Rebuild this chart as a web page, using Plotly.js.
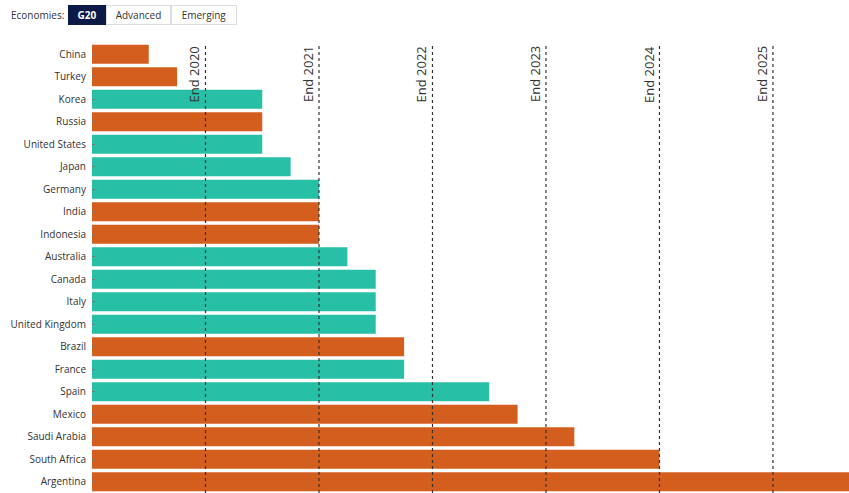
<!DOCTYPE html>
<html>
<head>
<meta charset="utf-8">
<script src="https://cdn.plot.ly/plotly-3.0.1.min.js"></script>
<style>html,body{margin:0;padding:0;background:#fff;}#chart{width:849px;height:493px;}</style>
</head>
<body>
<div id="chart"></div>
<script>
// Years (since end 2019) until pre-pandemic output level is recovered
var countries = ["China","Turkey","Korea","Russia","United States","Japan","Germany","India","Indonesia","Australia","Canada","Italy","United Kingdom","Brazil","France","Spain","Mexico","Saudi Arabia","South Africa","Argentina"];
var years = [0.5,0.75,1.5,1.5,1.5,1.75,2,2,2,2.25,2.5,2.5,2.5,2.75,2.75,3.5,3.75,4.25,5,7];
var groups = ["Emerging","Emerging","Advanced","Emerging","Advanced","Advanced","Advanced","Emerging","Emerging","Advanced","Advanced","Advanced","Advanced","Emerging","Advanced","Advanced","Emerging","Emerging","Emerging","Emerging"];
var markerYears = [1,2,3,4,5,6];
var markerLabels = ["End 2020","End 2021","End 2022","End 2023","End 2024","End 2025"];
var buttonLabels = ["G20","Advanced","Emerging"];

var groupColors = {"Emerging":"#D45E1E","Advanced":"#27BFA5"};
var font = "Open Sans, sans-serif";

var trace = {
  type: "bar",
  orientation: "h",
  y: countries,
  x: years,
  marker: {color: groups.map(function(g){return groupColors[g];}), line: {width: 0}},
  hoverinfo: "y+x"
};

var shapes = markerYears.map(function(v){
  return {type:"line", xref:"x", yref:"paper", x0:v, x1:v, y0:0, y1:1, layer:"above",
          line:{color:"#333", width:1.2, dash:"dot"}};
});

var annotations = markerYears.map(function(v,i){
  return {xref:"x", yref:"paper", x:v, y:1, text:markerLabels[i], textangle:-90,
          showarrow:false, xanchor:"right", yanchor:"top", xshift:0, yshift:-1,
          font:{family:font, size:13, color:"#333"}};
});

// header: label + button group
annotations.push({xref:"paper", yref:"paper", x:-0.11, y:1.0622, text:"Economies:", showarrow:false,
  xanchor:"left", yanchor:"middle", font:{family:font, size:10, color:"#333"}});
var btnX = [68,106,171];
var btnW = [38,65,66];
buttonLabels.forEach(function(t,i){
  var active = i===0;
  annotations.push({xref:"paper", yref:"paper", x:(btnX[i]-92)/757, y:1.0622, text: active?"<b>"+t+"</b>":t,
    showarrow:false, xanchor:"left", yanchor:"middle", width:btnW[i]-2, height:18, borderpad:0, borderwidth:1,
    bgcolor: active?"#0B1A47":"#ffffff", bordercolor: active?"#0B1A47":"#dddddd",
    font:{family:font, size:10, color: active?"#ffffff":"#333"}});
});

var layout = {
  width: 849, height: 493,
  margin: {l:92, r:0, t:43, b:0, pad:0},
  paper_bgcolor: "#ffffff", plot_bgcolor: "#ffffff",
  showlegend: false,
  bargap: 0.15,
  font: {family: font, size: 10, color: "#333"},
  xaxis: {range:[0,6.67], showgrid:false, zeroline:false, showticklabels:false, ticks:"", showline:false, fixedrange:true},
  yaxis: {autorange:"reversed", showgrid:false, zeroline:false, showline:false, ticks:"inside", ticklen:3, tickcolor:"#777",
          tickfont:{family:font, size:10, color:"#333"}, ticklabelstandoff:5, fixedrange:true},
  shapes: shapes,
  annotations: annotations
};

Plotly.newPlot("chart", [trace], layout, {displayModeBar:false, staticPlot:true});
</script>
</body>
</html>
